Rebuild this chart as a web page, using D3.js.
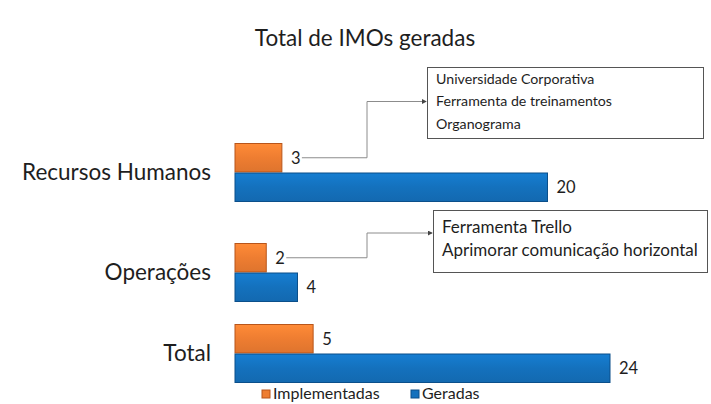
<!DOCTYPE html>
<html>
<head>
<meta charset="utf-8">
<script src="https://cdn.jsdelivr.net/npm/d3@7"></script>
<style>
body{margin:0;background:#fff}
text{font-family:Lato,"Noto Sans",sans-serif;fill:#1e1e1e}
</style>
</head>
<body>
<script>
const w=711
const h=404

const categories=["Recursos Humanos","Operações","Total"]
const series=["Implementadas","Geradas"]
const implementadas=[3,2,5]
const geradas=[20,4,24]
const notes=[
    ["Universidade Corporativa","Ferramenta de treinamentos","Organograma"],
    ["Ferramenta Trello","Aprimorar comunicação horizontal"],
    []
]

const colors={Implementadas:"#ee7d31",Geradas:"#1471bd"}
const strokes={Implementadas:"#b8551a",Geradas:"#0b4f8a"}

const x=d3.scaleLinear()
    .domain([0,24])
    .range([235,610])

// group tops (spacing as in the reference)
const y=d3.scaleOrdinal()
    .domain(categories)
    .range([143,243,324])

const sub=d3.scaleBand()
    .domain(series)
    .range([0,59])

const svg=d3.create("svg")
    .attr("width",w)
    .attr("height",h)

const defs=svg.append("defs")
series.forEach(s=>{
    const g=defs.append("linearGradient")
        .attr("id","g"+s)
        .attr("x1",0).attr("y1",0).attr("x2",0).attr("y2",1)
    g.append("stop").attr("offset","0%").attr("stop-color",d3.color(colors[s]).brighter(0.3))
    g.append("stop").attr("offset","50%").attr("stop-color",colors[s])
    g.append("stop").attr("offset","100%").attr("stop-color",d3.color(colors[s]).darker(0.2))
})
defs.append("marker")
    .attr("id","arrow")
    .attr("viewBox","0 0 6 6")
    .attr("refX",5).attr("refY",3)
    .attr("markerWidth",5).attr("markerHeight",5)
    .attr("orient","auto")
    .append("path")
    .attr("d","M0,0L6,3L0,6Z")
    .attr("fill","#444")

//title
svg.append("text")
    .attr("x",365)
    .attr("y",46)
    .attr("text-anchor","middle")
    .attr("font-size",22.5)
    .text("Total de IMOs geradas")

//category labels
svg.append("g")
    .attr("transform","translate(211,0)")
    .call(d3.axisLeft(y).tickSize(0).tickPadding(0))
    .call(g=>g.select(".domain").remove())
    .call(g=>g.selectAll(".tick").attr("transform",d=>`translate(0,${y(d)+sub.bandwidth()})`))
    .call(g=>g.selectAll("text").attr("font-size",22.5).attr("fill","#1e1e1e").attr("font-family",null).attr("dy","0.35em"))

const rows=categories.map((c,i)=>({cat:c,Implementadas:implementadas[i],Geradas:geradas[i]}))

series.forEach(s=>{
    svg.append("g").selectAll("rect")
        .data(rows)
        .enter()
        .append("rect")
        .attr("x",x(0))
        .attr("y",d=>y(d.cat)+sub(s)+0.5)
        .attr("width",d=>x(d[s])-x(0))
        .attr("height",sub.bandwidth()-1)
        .attr("fill",`url(#g${s})`)
        .attr("stroke",strokes[s])
        .attr("stroke-width",1)

    svg.append("g").selectAll("text")
        .data(rows)
        .enter()
        .append("text")
        .attr("x",d=>x(d[s])+9)
        .attr("y",d=>y(d.cat)+sub(s)+sub.bandwidth()/2)
        .attr("dy","0.35em")
        .attr("font-size",16.5)
        .text(d=>d[s])
})

//callouts
const boxes=[
    {x0:427,y0:67,x1:703,y1:138,first:12,lh:22.5,fs:14.2,line:1},
    {x0:433,y0:210,x1:707,y1:272,first:17,lh:23,fs:17,line:0}
]
boxes.forEach((b,i)=>{
    const c=categories[i]
    const startX=x(implementadas[i])+20
    const startY=y(c)+sub("Implementadas")+sub.bandwidth()/2
    const top=b.y0+b.first+b.lh*b.line+(i==0?0:6)
    svg.append("path")
        .attr("d",`M${startX},${startY}H367V${top}H${b.x0-1}`)
        .attr("fill","none")
        .attr("stroke","#8c8c8c")
        .attr("stroke-width",1)
        .attr("marker-end","url(#arrow)")
    svg.append("rect")
        .attr("x",b.x0+0.5).attr("y",b.y0+0.5)
        .attr("width",b.x1-b.x0).attr("height",b.y1-b.y0)
        .attr("fill","#fff")
        .attr("stroke","#555")
    svg.append("g").selectAll("text")
        .data(notes[i])
        .enter()
        .append("text")
        .attr("x",b.x0+9)
        .attr("y",(d,j)=>b.y0+b.first+j*b.lh)
        .attr("dy","0.35em")
        .attr("font-size",b.fs)
        .text(d=>d)
})

//legend
const leg=svg.append("g").attr("transform","translate(262,394)")
const lx=d3.scaleOrdinal().domain(series).range([0,149])
series.forEach(s=>{
    leg.append("rect")
        .attr("x",lx(s)).attr("y",-4)
        .attr("width",8).attr("height",8)
        .attr("fill",colors[s])
        .attr("stroke",strokes[s])
    leg.append("text")
        .attr("x",lx(s)+11)
        .attr("y",0)
        .attr("dy","0.32em")
        .attr("font-size",16)
        .text(s)
})

d3.select("body").append(()=>svg.node())
</script>
</body>
</html>
